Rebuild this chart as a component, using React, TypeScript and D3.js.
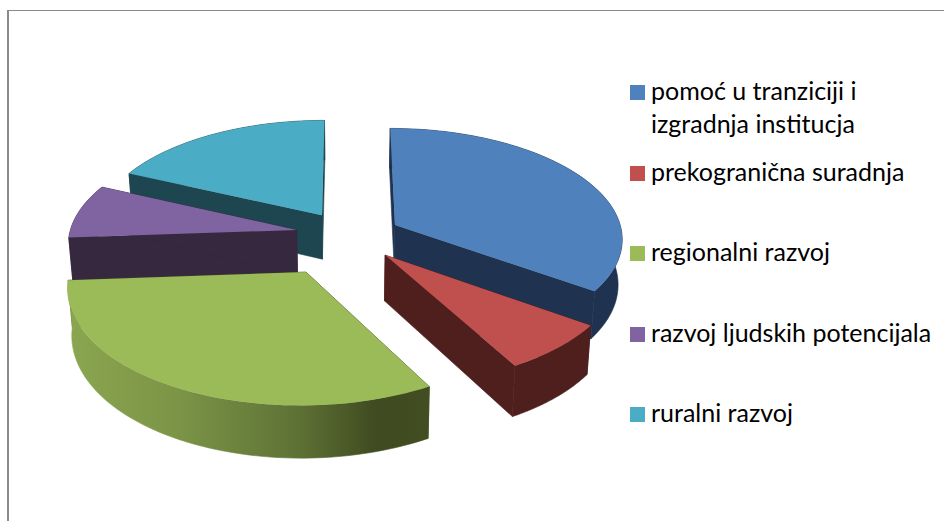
import React from "react";
import * as d3 from "d3";

const width = 944;
const height = 521;

const categories = [
  ["pomoć u tranziciji i", "izgradnja institucja"],
  ["prekogranična suradnja"],
  ["regionalni razvoj"],
  ["razvoj ljudskih potencijala"],
  ["ruralni razvoj"],
];
const shares = [34.8, 7.1, 32.0, 7.9, 18.2];

const topColors = ["#4f81bd", "#c0504d", "#9bbb59", "#8064a2", "#4bacc6"];
const wallColors = ["#1f3350", "#4f1f1e", "url(#greenWall)", "#35283f", "#1e4650"];
const sideColors = ["#1f3350", "#4f1f1e", "#3f4a20", "#35283f", "#1e4650"];

// how far each slice is pulled out of the pie, in units of the radius
const explodeX = [0.213, 0.164, -0.174, -0.222, -0.112];
const explodeY = [-0.11, 0.161, 0.307, -0.064, -0.203];

// back slices first so the front ones cover them
const drawOrder = [4, 3, 0, 1, 2];

const cx = 347;
const cy = 237;
const radiusX = 228;
const radiusY = 110;
const perspective = 0.112;
const depth = 45;
const bottomShrink = 0.985;

const legendBaselines = [100, 133, 181, 261, 342, 422];

type Pt = [number, number];

function project(X: number, Y: number, down: boolean): Pt {
  const s = 1 / (1 - perspective * Y);
  const x = X * radiusX * s;
  const y = cy + Y * radiusY * s;
  if (!down) return [cx + x, y];
  return [cx + x * bottomShrink, y + depth * s];
}

const line = d3.line<Pt>();

const arcs = d3.pie<number>().sort(null).startAngle(0).endAngle(2 * Math.PI)(shares);

function slicePaths(i: number) {
  const arc = arcs[i];
  const ox = explodeX[i];
  const oy = explodeY[i];
  const steps = d3.range(0, 61).map((k) => arc.startAngle + ((arc.endAngle - arc.startAngle) * k) / 60);
  const rim = (down: boolean) =>
    steps.map((a) => project(ox + Math.sin(a), oy - Math.cos(a), down));
  const apex = project(ox, oy, false);
  const apexDown = project(ox, oy, true);
  const rimTop = rim(false);
  const rimDown = rim(true);
  return {
    top: line([apex, ...rimTop])! + "Z",
    wall: line([...rimTop, ...rimDown.slice().reverse()])! + "Z",
    startSide: line([apex, rimTop[0], rimDown[0], apexDown])! + "Z",
    endSide: line([apex, rimTop[60], rimDown[60], apexDown])! + "Z",
  };
}

export default function App() {
  let row = 0;
  return (
    <svg
      width={width}
      height={height}
      viewBox={`0 0 ${width} ${height}`}
      style={{ position: "absolute", left: 0, top: 0, background: "#fff" }}
    >
      <defs>
        <linearGradient id="greenWall" gradientUnits="userSpaceOnUse" x1="68" y1="0" x2="429" y2="0">
          <stop offset="0" stopColor="#8ba650" />
          <stop offset="0.32" stopColor="#7a9346" />
          <stop offset="0.64" stopColor="#5d7135" />
          <stop offset="0.86" stopColor="#3f4a20" />
          <stop offset="1" stopColor="#434d22" />
        </linearGradient>
      </defs>

      <path d={`M8,10.5H${width}`} fill="none" stroke="#8a8a8a" strokeWidth={1.2} />
      <path d={`M8,10V${height}`} fill="none" stroke="#8a8a8a" strokeWidth={2} />

      {drawOrder.map((i) => {
        const p = slicePaths(i);
        return (
          <g key={i}>
            <path d={p.startSide} fill={sideColors[i]} stroke={sideColors[i]} strokeWidth={0.6} />
            <path d={p.endSide} fill={sideColors[i]} stroke={sideColors[i]} strokeWidth={0.6} />
            <path d={p.wall} fill={wallColors[i]} stroke={wallColors[i]} strokeWidth={0.6} />
            <path d={p.top} fill={topColors[i]} />
          </g>
        );
      })}

      <g fontFamily="Lato, sans-serif" fontSize={25} fill="#000">
        {categories.map((lines, i) => {
          const first = row;
          row += lines.length;
          return (
            <g key={i}>
              <rect
                x={630}
                y={legendBaselines[first] - 15}
                width={15}
                height={15}
                fill={topColors[i]}
              />
              {lines.map((t, j) => (
                <text key={j} x={651} y={legendBaselines[first + j]}>
                  {t}
                </text>
              ))}
            </g>
          );
        })}
      </g>
    </svg>
  );
}
